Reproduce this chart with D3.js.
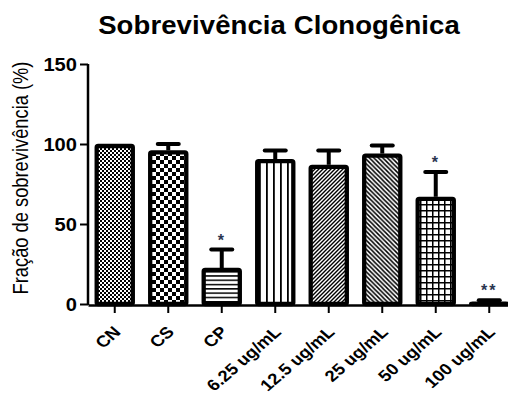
<!DOCTYPE html>
<html><head><meta charset="utf-8">
<script src="https://cdn.jsdelivr.net/npm/d3@7"></script>
<style>body{margin:0;background:#fff}svg{display:block}</style>
</head><body><svg id="c" width="508" height="396"></svg>
<script>
const categories = ["CN","CS","CP","6.25 ug/mL","12.5 ug/mL","25 ug/mL","50 ug/mL","100 ug/mL"];
const means = [100, 96, 22.5, 90.5, 87, 94, 67, 1.5];
const errors = [0, 4, 11.5, 5.5, 9, 5, 15.5, 0.8];
const stars = ["", "", "*", "", "", "", "*", "**"];
const patterns = ["fineCheck","check","hlines","vlines","diagUp","diagDown","grid","solid"];
const yTicks = [0, 50, 100, 150];
const title = "Sobrevivência Clonogênica";
const yLabel = "Fração de sobrevivência (%)";

const svg = d3.select("#c");
const F = "'Liberation Sans', Arial, sans-serif";
const SX = 1.1; // horizontal stretch of glyphs seen in the reference
const x = d3.scaleBand().domain(categories).range([88, 516]).paddingInner(0.25).paddingOuter(0.125);
const y = d3.scaleLinear().domain([0, 150]).range([304, 64]);

// patterns
const defs = svg.append("defs");
function pat(id, w, h, draw){
  const p = defs.append("pattern").attr("id", id).attr("patternUnits","userSpaceOnUse").attr("width", w).attr("height", h);
  p.append("rect").attr("width", w).attr("height", h).attr("fill", "#fff");
  draw(p);
}
pat("fineCheck", 4, 4, p => { p.append("rect").attr("width",2).attr("height",2).attr("fill","#000"); p.append("rect").attr("x",2).attr("y",2).attr("width",2).attr("height",2).attr("fill","#000"); });
pat("check", 8, 8, p => { p.append("rect").attr("width",4).attr("height",4).attr("fill","#000"); p.append("rect").attr("x",4).attr("y",4).attr("width",4).attr("height",4).attr("fill","#000"); });
pat("hlines", 4, 4.3, p => { p.append("rect").attr("width",4).attr("height",1.5).attr("fill","#000"); });
pat("vlines", 7, 4, p => { p.append("rect").attr("width",1.8).attr("height",4).attr("fill","#000"); });
pat("diagUp", 4, 4, p => { p.append("path").attr("d","M-1,1 l2,-2 M0,4 l4,-4 M3,5 l2,-2").attr("stroke","#000").attr("stroke-width",1.4); });
pat("diagDown", 4.5, 4.5, p => { p.append("path").attr("d","M-1,3.5 l2,2 M0,0 l4.5,4.5 M3.5,-1 l2,2").attr("stroke","#000").attr("stroke-width",1.5); });
pat("grid", 6, 6, p => { p.append("rect").attr("width",6).attr("height",1.5).attr("fill","#000"); p.append("rect").attr("width",1.5).attr("height",6).attr("fill","#000"); });
pat("solid", 4, 4, p => { p.append("rect").attr("width",4).attr("height",4).attr("fill","#000"); });

// title
svg.append("text").attr("transform", `translate(279,34) scale(${SX},1)`).attr("text-anchor","middle")
  .attr("font-family", F).attr("font-weight","bold").attr("font-size", 25).attr("letter-spacing", 0.1)
  .text(title);

// y label
svg.append("text").attr("transform",`translate(28,178) scale(1.2,1) rotate(-90)`).attr("text-anchor","middle")
  .attr("font-family", F).attr("font-size", 18.3).text(yLabel);

const data = categories.map((c,i)=>({c, m:means[i], e:errors[i], s:stars[i], p:patterns[i]}));
const bw = x.bandwidth();

// error bars
const eb = svg.append("g").selectAll("g").data(data.filter(d=>d.e>0)).join("g");
eb.append("line").attr("x1", d=>x(d.c)+bw/2).attr("x2", d=>x(d.c)+bw/2)
  .attr("y1", d=>y(d.m)).attr("y2", d=>y(d.m+d.e)).attr("stroke","#000").attr("stroke-width",4);
eb.append("line").attr("x1", d=>x(d.c)+bw/2-10.5).attr("x2", d=>x(d.c)+bw/2+10.5)
  .attr("y1", d=>y(d.m+d.e)).attr("y2", d=>y(d.m+d.e)).attr("stroke","#000").attr("stroke-width",4).attr("stroke-linecap","round");

// bars
svg.append("g").selectAll("rect").data(data).join("rect")
  .attr("x", d=>x(d.c)+2).attr("width", bw-4)
  .attr("y", d=>y(d.m)+2).attr("height", d=>Math.max(0.5, y(0)-y(d.m)-2))
  .attr("rx", 1.5)
  .attr("fill", d=>`url(#${d.p})`).attr("stroke","#000").attr("stroke-width",4.3);

// stars
svg.append("g").selectAll("text").data(data.filter(d=>d.s)).join("text")
  .attr("x", d=>x(d.c)+bw/2).attr("y", d=>y(d.m+d.e)-4).attr("text-anchor","middle")
  .attr("font-family", F).attr("font-weight","bold").attr("font-size", 16).attr("fill","#2a3550").attr("letter-spacing", 2)
  .text(d=>d.s);

// y axis
const ya = svg.append("g").attr("transform","translate(88,0)")
  .call(d3.axisLeft(y).tickValues(yTicks).tickSize(8).tickPadding(3));
ya.select(".domain").attr("stroke-width",2.5).attr("d", `M0,${y(150)}V${y(0)+1}`);
ya.selectAll(".tick line").attr("stroke-width",2);
ya.selectAll(".tick text").attr("font-family",F).attr("font-weight","bold").attr("font-size",17.5).attr("fill","#000")
  .attr("x", null).attr("dy", null).attr("y", 6.3)
  .attr("transform", `translate(-11,0) scale(1.15,1)`);

// x axis
const xa = svg.append("g").attr("transform","translate(0,305)")
  .call(d3.axisBottom(x).tickSize(8).tickSizeOuter(0));
xa.select(".domain").attr("stroke-width",2.5);
xa.selectAll(".tick line").attr("stroke-width",2);
xa.selectAll(".tick text").attr("font-family",F).attr("font-weight","bold").attr("font-size",16).attr("fill","#000")
  .attr("text-anchor","end").attr("dy", null).attr("y",0).attr("x",0)
  .attr("transform",`translate(7,28) scale(1.15,1) rotate(-45)`);
</script></body></html>
